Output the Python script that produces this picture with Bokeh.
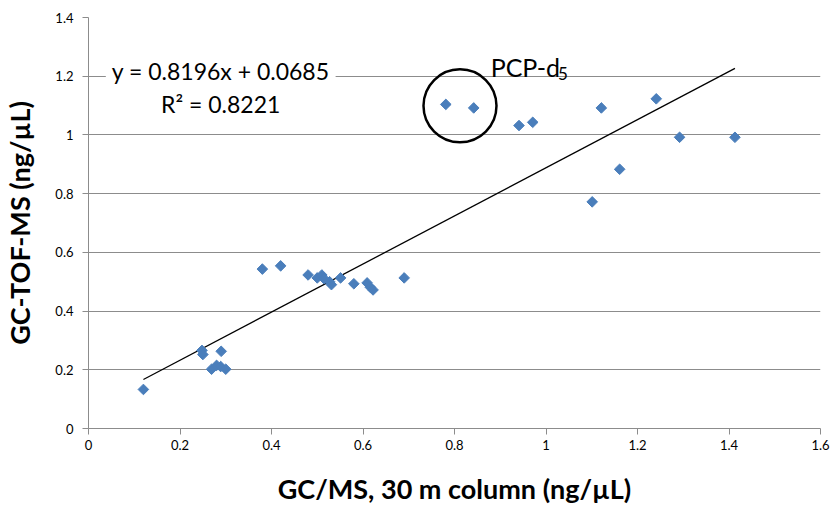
import numpy as np
from bokeh.plotting import figure
from bokeh.models import Label, Range1d, FixedTicker
from bokeh.embed import file_html
from bokeh.resources import INLINE

# data
gcms = [0.12, 0.248, 0.25, 0.29, 0.269, 0.28, 0.289, 0.30, 0.38, 0.42,
        0.48, 0.50, 0.51, 0.515, 0.527, 0.531, 0.551, 0.58, 0.609, 0.616,
        0.622, 0.69, 0.781, 0.842, 0.941, 0.971, 1.121, 1.241, 1.292, 1.413,
        1.161, 1.101]
tofms = [0.133, 0.266, 0.252, 0.263, 0.202, 0.215, 0.211, 0.202, 0.543, 0.554,
         0.523, 0.513, 0.523, 0.51, 0.50, 0.49, 0.513, 0.493, 0.496, 0.481,
         0.472, 0.513, 1.104, 1.092, 1.032, 1.043, 1.092, 1.123, 0.992, 0.992,
         0.883, 0.772]
slope = 0.8196
intercept = 0.0685
r2 = 0.8221
x_ticks = [0, 0.2, 0.4, 0.6, 0.8, 1.0, 1.2, 1.4, 1.6]
y_ticks = [0, 0.2, 0.4, 0.6, 0.8, 1.0, 1.2, 1.4]
highlight_x = [0.812]
highlight_y = [1.099]

FONT = "Lato"
GRID = "#8c8c8c"

p = figure(width=833, height=508, output_backend="svg", toolbar_location=None,
           x_range=Range1d(0, 1.6), y_range=Range1d(0, 1.4),
           min_border_left=88, min_border_right=13, min_border_top=17,
           min_border_bottom=80)
p.outline_line_color = None
p.background_fill_color = "white"
p.border_fill_color = "white"

p.xgrid.grid_line_color = None
p.ygrid.grid_line_color = GRID
p.ygrid.grid_line_width = 1

p.xaxis.ticker = FixedTicker(ticks=x_ticks)
p.yaxis.ticker = FixedTicker(ticks=y_ticks)
p.xaxis.major_label_overrides = {t: ("%g" % t) for t in x_ticks}
p.yaxis.major_label_overrides = {t: ("%g" % t) for t in y_ticks}
for ax in (p.xaxis[0], p.yaxis[0]):
    ax.axis_line_color = GRID
    ax.major_tick_line_color = GRID
    ax.minor_tick_line_color = None
    ax.major_tick_out = 6
    ax.major_tick_in = 0
    ax.major_label_text_font = FONT
    ax.major_label_text_font_size = "13px"
    ax.major_label_text_color = "black"
    ax.axis_label_text_font = FONT
    ax.axis_label_text_font_style = "bold"
    ax.axis_label_text_font_size = "27px"
    ax.axis_label_text_color = "black"

p.xaxis.axis_label = "GC/MS, 30 m column (ng/µL)"
p.yaxis.axis_label = "GC-TOF-MS (ng/µL)"
p.xaxis.major_label_standoff = 5
p.xaxis.axis_label_standoff = 19
p.yaxis.major_label_standoff = 9
p.yaxis.axis_label_standoff = 16

# trend line
xl = np.array([min(gcms), max(gcms)])
p.line(xl, slope * xl + intercept, line_color="black", line_width=1.3)

# points
p.scatter(gcms, tofms, marker="square", angle=np.pi / 4, size=7.5,
          fill_color="#4A7EBB", line_color="#4A7EBB")

# highlight circle
p.scatter(highlight_x, highlight_y, marker="circle", size=73,
          fill_color=None, line_color="black", line_width=2.5)

# equation label
eq = Label(x=0.289, y=1.219, text="y = %.4fx + %.4f" % (slope, intercept),
           text_align="center", text_baseline="alphabetic",
           text_font=FONT, text_font_size="23px", text_color="black",
           background_fill_color="white", padding=6)
p.add_layout(eq)
r2l = Label(x=0.289, y=1.107, text="R² = %.4f" % r2,
            text_align="center", text_baseline="alphabetic",
            text_font=FONT, text_font_size="23px", text_color="black")
p.add_layout(r2l)

pcp = Label(x=0.879, y=1.233, text="PCP-d", text_align="left",
            text_baseline="alphabetic", text_font=FONT,
            text_font_size="25px", text_color="black")
p.add_layout(pcp)
sub = Label(x=1.026, y=1.209, text="5", text_align="left",
            text_baseline="alphabetic", text_font=FONT,
            text_font_size="17px", text_color="black")
p.add_layout(sub)

open("out.html", "w").write(file_html(p, INLINE))
